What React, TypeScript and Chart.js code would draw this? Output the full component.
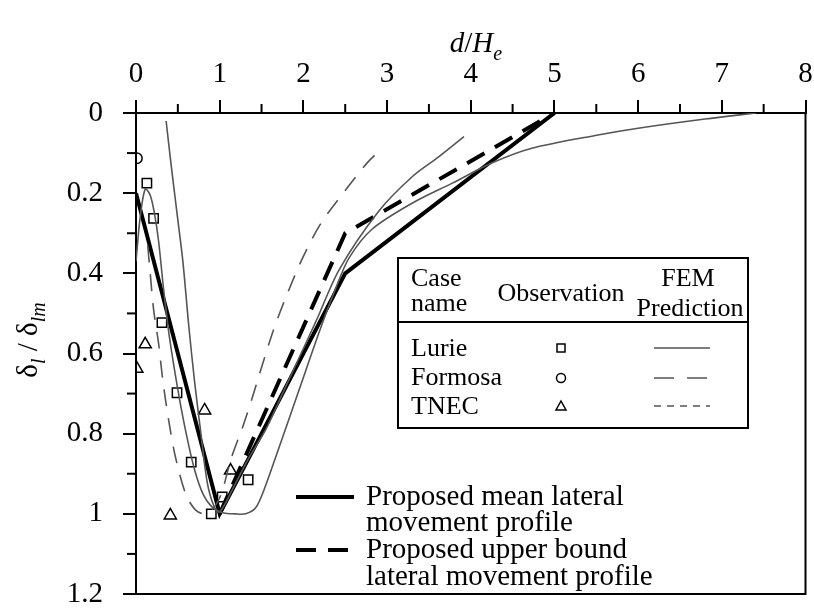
import React, { useEffect, useRef } from "react";
import { Chart, registerables } from "chart.js";
Chart.register(...registerables);

// ---------- data ----------
const xTickValues = [0, 1, 2, 3, 4, 5, 6, 7, 8];
const yTickValues = [0, 0.2, 0.4, 0.6, 0.8, 1, 1.2];

const lurieObsX = [0.13, 0.21, 0.31, 0.49, 0.66, 0.9, 1.03, 1.34];
const lurieObsY = [0.175, 0.263, 0.523, 0.698, 0.871, 1.0, 0.958, 0.915];
const formosaObsX = [0.01];
const formosaObsY = [0.113];
const tnecObsX = [0.11, 0.01, 0.82, 1.13, 0.41];
const tnecObsY = [0.577, 0.638, 0.742, 0.892, 1.004];

// FEM predictions (solid grey curves)
const femAX = [0.0, 0.05, 0.11, 0.17, 0.22, 0.27, 0.33, 0.4, 0.5, 0.6, 0.7, 0.8, 0.92, 1.05, 1.18, 1.31, 1.43, 1.53, 1.7, 1.95, 2.2, 2.4, 2.55, 2.82, 3.3, 3.78, 4.25, 4.73, 5.52, 6.0, 6.8, 7.41];
const femAY = [0.37, 0.26, 0.19, 0.205, 0.25, 0.32, 0.44, 0.56, 0.69, 0.8, 0.89, 0.95, 0.985, 0.998, 1.0, 1.0, 0.985, 0.94, 0.84, 0.69, 0.54, 0.43, 0.36, 0.29, 0.225, 0.175, 0.125, 0.088, 0.055, 0.038, 0.015, 0.0];
const femBX = [0.36, 0.42, 0.49, 0.56, 0.63, 0.7, 0.77, 0.85, 0.93, 1.0, 1.15, 1.35, 1.55, 1.75, 1.95, 2.15, 2.43, 2.9, 3.3, 3.62, 3.92];
const femBY = [0.02, 0.13, 0.25, 0.37, 0.53, 0.67, 0.79, 0.92, 0.98, 0.995, 0.94, 0.86, 0.79, 0.7, 0.61, 0.52, 0.39, 0.245, 0.159, 0.109, 0.059];
// FEM prediction (dashed grey curve)
const femCX = [0.14, 0.17, 0.21, 0.27, 0.32, 0.39, 0.47, 0.59, 0.71, 0.85, 1.0, 1.14, 1.28, 1.39, 1.51, 1.65, 1.81, 1.99, 2.21, 2.49, 2.76, 2.94];
const femCY = [0.33, 0.4, 0.49, 0.575, 0.666, 0.766, 0.857, 0.948, 0.99, 1.0, 0.96, 0.86, 0.78, 0.71, 0.628, 0.537, 0.45, 0.362, 0.275, 0.196, 0.125, 0.088];

// Proposed profiles
const meanX = [0, 1, 2.5, 5];
const meanY = [0.2, 1, 0.4, 0];
const upperX = [1, 2.5, 5];
const upperY = [1, 0.3, 0];

const zip = (xs: number[], ys: number[]) => xs.map((x, i) => ({ x, y: ys[i] }));

const SERIF = "'Liberation Serif','Times New Roman',serif";
const GREY = "#555555";

type Part = { t: string; italic?: boolean; sub?: boolean; size: number };
function drawRich(ctx: CanvasRenderingContext2D, parts: Part[], cx: number, baseY: number) {
  const widths = parts.map((p) => {
    ctx.font = `${p.italic ? "italic " : ""}${p.size}px ${SERIF}`;
    return ctx.measureText(p.t).width;
  });
  const total = widths.reduce((a, b) => a + b, 0);
  let x = cx - total / 2;
  ctx.textAlign = "left";
  ctx.textBaseline = "alphabetic";
  parts.forEach((p, i) => {
    ctx.font = `${p.italic ? "italic " : ""}${p.size}px ${SERIF}`;
    ctx.fillText(p.t, x, baseY + (p.sub ? 8 : 0));
    x += widths[i];
  });
}

const decorPlugin = {
  id: "decor",
  afterDraw(chart: any) {
    const ctx: CanvasRenderingContext2D = chart.ctx;
    const xs = chart.scales.x;
    const ys = chart.scales.y;
    const area = chart.chartArea;
    ctx.save();
    ctx.fillStyle = "#000";
    ctx.strokeStyle = "#000";
    // frame (right and bottom)
    ctx.lineWidth = 2;
    ctx.beginPath();
    ctx.moveTo(area.right, area.top);
    ctx.lineTo(area.right, area.bottom);
    ctx.lineTo(area.left, area.bottom);
    ctx.stroke();
    // minor ticks
    for (let v = 0.5; v < 8; v += 1) {
      const px = xs.getPixelForValue(v);
      ctx.beginPath();
      ctx.moveTo(px, area.top);
      ctx.lineTo(px, area.top - 9);
      ctx.stroke();
    }
    for (let k = 1; k < 12; k += 2) {
      const py = ys.getPixelForValue(k / 10);
      ctx.beginPath();
      ctx.moveTo(area.left, py);
      ctx.lineTo(area.left - 9, py);
      ctx.stroke();
    }
    // x title
    drawRich(ctx, [
      { t: "d", italic: true, size: 29 },
      { t: "/", size: 29 },
      { t: "H", italic: true, size: 29 },
      { t: "e", italic: true, sub: true, size: 20 },
    ], 476, 52);
    // y title
    ctx.save();
    ctx.translate(37, 340);
    ctx.rotate(-Math.PI / 2);
    drawRich(ctx, [
      { t: "δ", size: 29 },
      { t: "l", italic: true, sub: true, size: 20 },
      { t: " / ", size: 29 },
      { t: "δ", size: 29 },
      { t: "lm", italic: true, sub: true, size: 20 },
    ], 0, 0);
    ctx.restore();

    // legend table
    ctx.lineWidth = 2;
    ctx.strokeRect(398, 258, 350, 170);
    ctx.beginPath();
    ctx.moveTo(398, 322);
    ctx.lineTo(748, 322);
    ctx.stroke();
    ctx.font = `26px ${SERIF}`;
    ctx.textBaseline = "middle";
    ctx.textAlign = "left";
    ctx.fillText("Case", 411, 279);
    ctx.fillText("name", 411, 304);
    ctx.fillText("Lurie", 411, 349);
    ctx.fillText("Formosa", 411, 378);
    ctx.fillText("TNEC", 411, 407);
    ctx.textAlign = "center";
    ctx.fillText("Observation", 561, 294);
    ctx.fillText("FEM", 688, 279);
    ctx.fillText("Prediction", 690, 309);
    // symbols
    ctx.lineWidth = 1.5;
    ctx.strokeRect(557, 344, 8, 8);
    ctx.beginPath();
    ctx.arc(561, 378, 4.5, 0, Math.PI * 2);
    ctx.stroke();
    ctx.beginPath();
    ctx.moveTo(561, 401);
    ctx.lineTo(566, 410);
    ctx.lineTo(556, 410);
    ctx.closePath();
    ctx.stroke();
    // line samples
    const sample = (y: number, dash: number[]) => {
      ctx.strokeStyle = GREY;
      ctx.lineWidth = 1.5;
      ctx.setLineDash(dash);
      ctx.beginPath();
      ctx.moveTo(654, y);
      ctx.lineTo(710, y);
      ctx.stroke();
      ctx.setLineDash([]);
    };
    sample(348, []);
    sample(378, [20, 13]);
    sample(406, [7, 6]);

    // lower legend
    ctx.strokeStyle = "#000";
    ctx.lineWidth = 4;
    ctx.beginPath();
    ctx.moveTo(296, 497);
    ctx.lineTo(354, 497);
    ctx.stroke();
    ctx.setLineDash([20, 12]);
    ctx.beginPath();
    ctx.moveTo(296, 550);
    ctx.lineTo(354, 550);
    ctx.stroke();
    ctx.setLineDash([]);
    ctx.font = `29px ${SERIF}`;
    ctx.textAlign = "left";
    ctx.textBaseline = "middle";
    ctx.fillStyle = "#000";
    ctx.fillText("Proposed mean lateral", 366, 497);
    ctx.fillText("movement profile", 366, 523);
    ctx.fillText("Proposed upper bound", 366, 550);
    ctx.fillText("lateral movement profile", 366, 577);
    ctx.restore();
  },
};

export default function App() {
  const ref = useRef<HTMLCanvasElement | null>(null);
  useEffect(() => {
    if (!ref.current) return;
    const lineDs = (label: string, xs: number[], ys: number[], color: string, width: number, dash: number[], tension: number) => ({
      label,
      data: zip(xs, ys),
      showLine: true,
      borderColor: color,
      borderWidth: width,
      borderDash: dash,
      pointRadius: 0,
      tension,
      fill: false,
    });
    const obsDs = (label: string, xs: number[], ys: number[], style: string, r: number) => ({
      label,
      data: zip(xs, ys),
      showLine: false,
      pointStyle: style,
      pointRadius: r,
      pointBorderColor: "#000",
      pointBackgroundColor: "rgba(255,255,255,0)",
      pointBorderWidth: 1.5,
    });
    const chart = new Chart(ref.current, {
      type: "scatter",
      data: {
        datasets: [
          lineDs("Lurie FEM A", femAX, femAY, GREY, 1.6, [], 0.3),
          lineDs("Lurie FEM B", femBX, femBY, GREY, 1.6, [], 0.3),
          lineDs("Formosa FEM", femCX, femCY, GREY, 1.6, [17, 12], 0.3),
          lineDs("Proposed mean", meanX, meanY, "#000", 4, [], 0),
          lineDs("Proposed upper bound", upperX, upperY, "#000", 4, [20, 12], 0),
          obsDs("Lurie", lurieObsX, lurieObsY, "rect", 6.6),
          obsDs("Formosa", formosaObsX, formosaObsY, "circle", 5.3),
          obsDs("TNEC", tnecObsX, tnecObsY, "triangle", 7),
        ] as any,
      },
      options: {
        animation: false,
        responsive: false,
        layout: { padding: { left: 0, top: 0, right: 6, bottom: 19 } },
        plugins: { legend: { display: false }, tooltip: { enabled: false } },
        scales: {
          x: {
            type: "linear",
            position: "top",
            min: 0,
            max: 8,
            afterFit: (s: any) => {
              s.height = 113;
              s.paddingLeft = 0;
              s.paddingRight = 0;
            },
            afterBuildTicks: (s: any) => { s.ticks = xTickValues.map((v) => ({ value: v })); },
            ticks: {
              color: "#000",
              font: { family: SERIF, size: 29 },
              padding: 8,
              maxRotation: 0,
              callback: (v: any) => String(v),
            },
            grid: { drawOnChartArea: false, tickLength: 13, color: "#000", lineWidth: 2 },
            border: { display: true, color: "#000", width: 2 },
          },
          y: {
            type: "linear",
            reverse: true,
            min: 0,
            max: 1.2,
            afterFit: (s: any) => {
              s.width = 136;
              s.paddingTop = 0;
              s.paddingBottom = 0;
            },
            afterBuildTicks: (s: any) => { s.ticks = yTickValues.map((v) => ({ value: v })); },
            ticks: {
              color: "#000",
              font: { family: SERIF, size: 29 },
              padding: 20,
              callback: (v: any) => String(Math.round(Number(v) * 10) / 10),
            },
            grid: { drawOnChartArea: false, tickLength: 13, color: "#000", lineWidth: 2 },
            border: { display: true, color: "#000", width: 2 },
          },
        },
      },
      plugins: [decorPlugin],
    });
    return () => chart.destroy();
  }, []);
  return (
    <div style={{ position: "absolute", left: 0, top: 0, width: 814, height: 613, background: "#fff" }}>
      <canvas ref={ref} width={814} height={613} style={{ display: "block" }} />
    </div>
  );
}
